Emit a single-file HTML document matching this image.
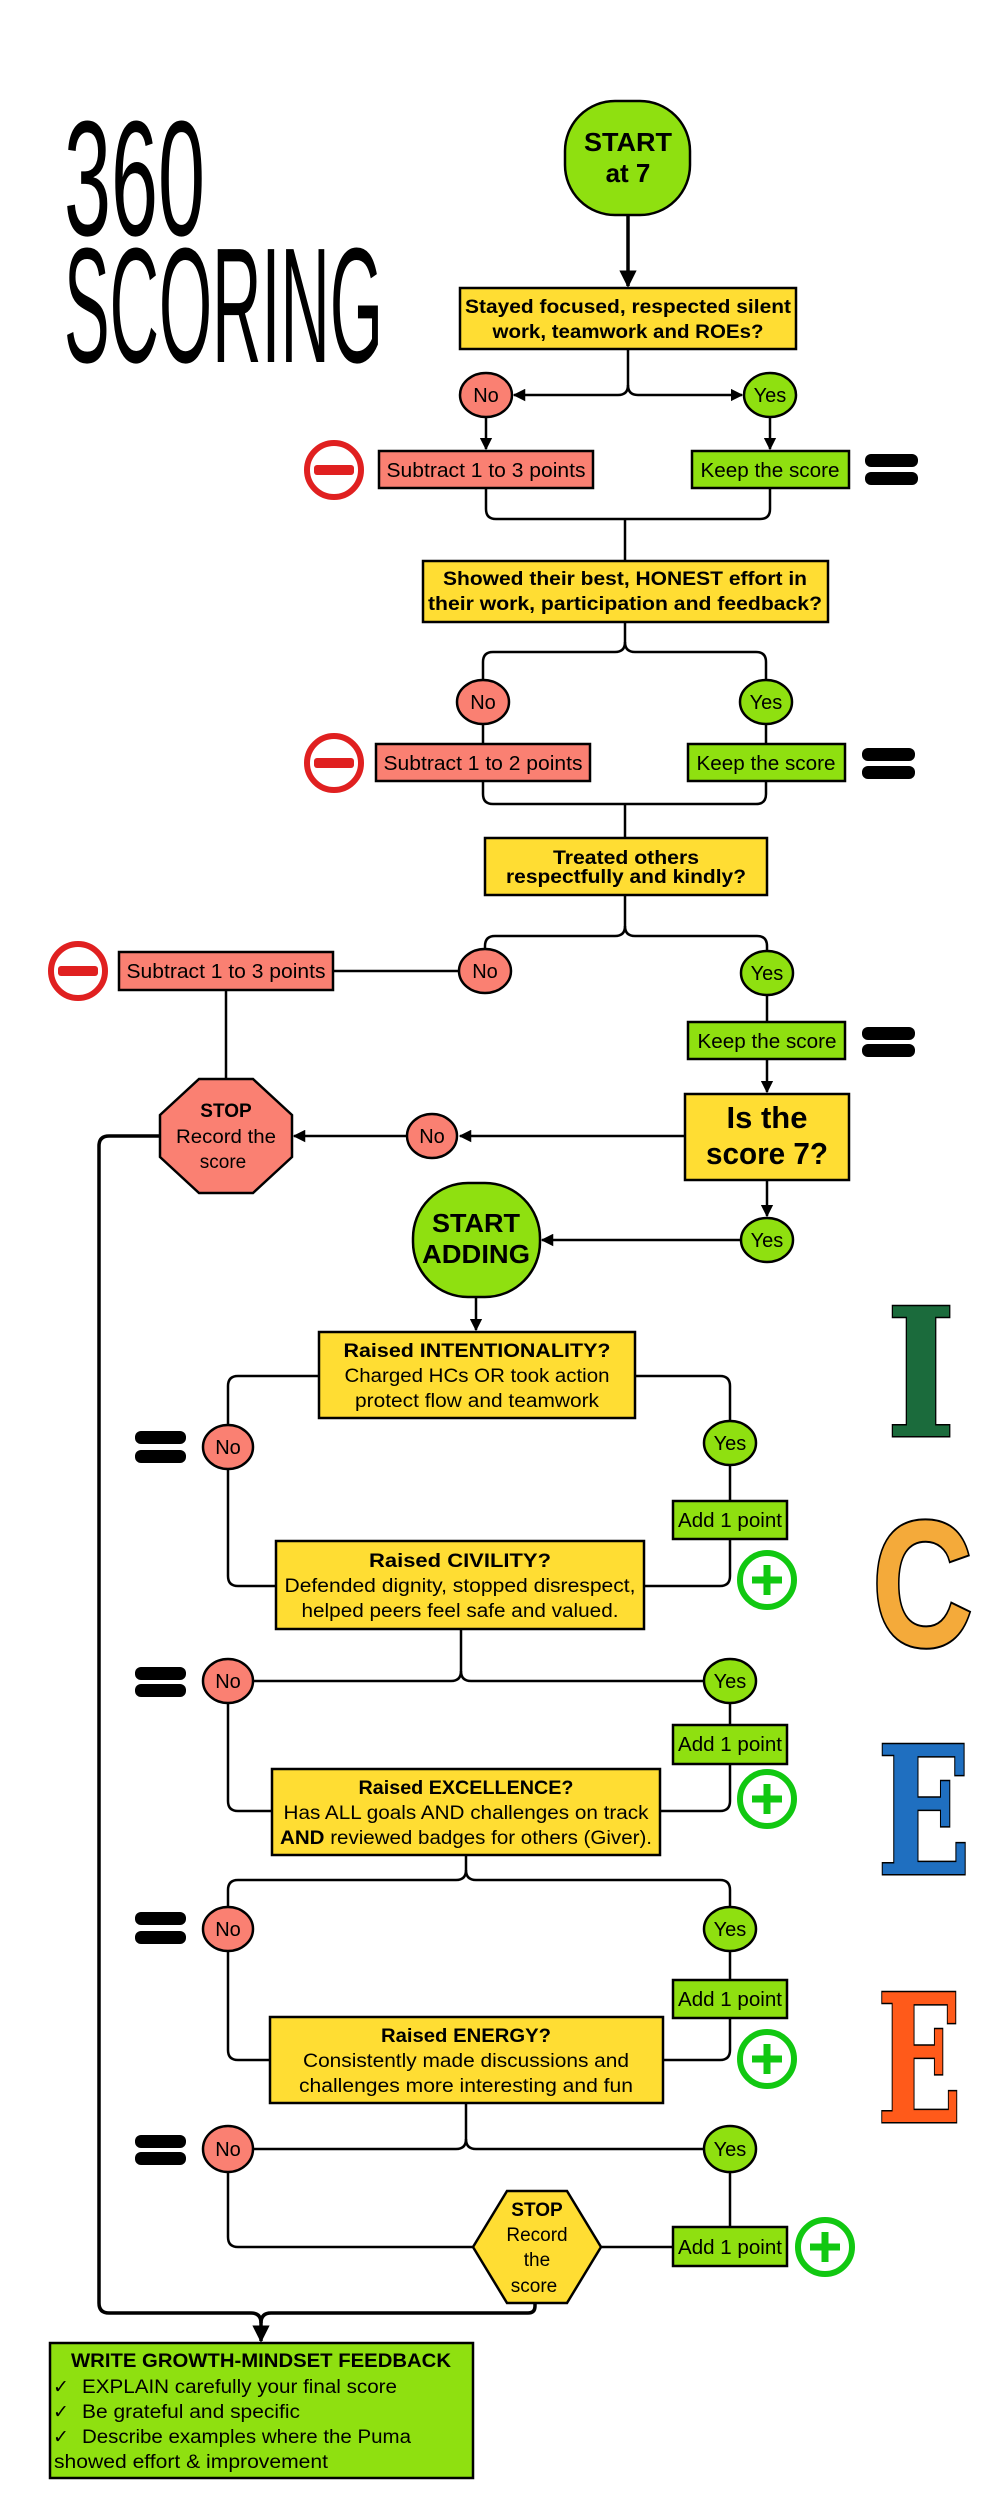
<!DOCTYPE html>
<html><head><meta charset="utf-8"><style>
html,body{margin:0;padding:0;background:#fff;}
svg{display:block;}
text{font-family:"Liberation Sans",sans-serif;}
.b{font-weight:bold;}
</style></head><body>
<svg width="1000" height="2500" viewBox="0 0 1000 2500" xmlns="http://www.w3.org/2000/svg">
<defs>
<marker id="ar" viewBox="0 0 10 10" refX="9" refY="5" markerWidth="5" markerHeight="5" orient="auto-start-reverse"><path d="M0,0 L10,5 L0,10 z" fill="#000"/></marker>
</defs>
<rect width="1000" height="2500" fill="#fff"/>

<!-- Title -->
<text x="64" y="235" font-size="164" fill="#000" textLength="141" lengthAdjust="spacingAndGlyphs">360</text>
<text x="64" y="362" font-size="164" fill="#000" textLength="319" lengthAdjust="spacingAndGlyphs">SCORING</text>

<g fill="none" stroke="#000" stroke-width="2.5">
<path d="M628,215 V286" stroke-width="3.5" marker-end="url(#ar)"/>
<path d="M628,349 V385 Q628,395 618,395 H514" marker-end="url(#ar)"/>
<path d="M628,385 Q628,395 638,395 H742" marker-end="url(#ar)"/>
<path d="M486,417 V449" marker-end="url(#ar)"/>
<path d="M770,417 V449" marker-end="url(#ar)"/>
<path d="M486,488 V509 Q486,519 496,519 H760 Q770,519 770,509 V488"/>
<path d="M625,519 V561"/>
<path d="M625,622 V642 Q625,652 615,652 H493 Q483,652 483,662 V680"/>
<path d="M625,642 Q625,652 635,652 H756 Q766,652 766,662 V680"/>
<path d="M483,724 V744 M766,724 V744"/>
<path d="M483,781 V794 Q483,804 493,804 H756 Q766,804 766,794 V781"/>
<path d="M625,804 V838"/>
<path d="M625,895 V926 Q625,936 615,936 H495 Q485,936 485,946 V949"/>
<path d="M625,926 Q625,936 635,936 H757 Q767,936 767,946 V951"/>
<path d="M459,971 H333"/>
<path d="M767,995 V1022"/>
<path d="M767,1059 V1092" marker-end="url(#ar)"/>
<path d="M685,1136 H460" marker-end="url(#ar)"/>
<path d="M406,1136 H294" marker-end="url(#ar)"/>
<path d="M226,990 V1079"/>
<path d="M160,1136 H109 Q99,1136 99,1146 V2303 Q99,2313 109,2313 H251 Q261,2313 261,2323 V2341" stroke-width="3.5" marker-end="url(#ar)"/>
<path d="M535,2303 V2306 Q535,2313 528,2313 H271 Q261,2313 261,2323" stroke-width="3.5"/>
<path d="M767,1180 V1216" marker-end="url(#ar)"/>
<path d="M741,1240 H542" marker-end="url(#ar)"/>
<path d="M476,1297 V1330" marker-end="url(#ar)"/>
<path d="M319,1376 H238 Q228,1376 228,1386 V1425"/>
<path d="M228,1469 V1576 Q228,1586 238,1586 H276"/>
<path d="M635,1376 H720 Q730,1376 730,1386 V1421"/>
<path d="M730,1465 V1501 M730,1539 V1576 Q730,1586 720,1586 H644"/>
<path d="M461,1629 V1671 Q461,1681 451,1681 H254"/>
<path d="M461,1671 Q461,1681 471,1681 H704"/>
<path d="M228,1703 V1801 Q228,1811 238,1811 H272"/>
<path d="M730,1703 V1725 M730,1764 V1801 Q730,1811 720,1811 H660"/>
<path d="M466,1855 V1870 Q466,1880 456,1880 H238 Q228,1880 228,1890 V1907"/>
<path d="M466,1870 Q466,1880 476,1880 H720 Q730,1880 730,1890 V1907"/>
<path d="M228,1951 V2050 Q228,2060 238,2060 H270"/>
<path d="M730,1951 V1980 M730,2018 V2050 Q730,2060 720,2060 H663"/>
<path d="M466,2103 V2139 Q466,2149 456,2149 H254"/>
<path d="M466,2139 Q466,2149 476,2149 H704"/>
<path d="M228,2171 V2237 Q228,2247 238,2247 H473"/>
<path d="M730,2171 V2227"/>
<path d="M601,2247 H673"/>
</g>

<g stroke="#000" stroke-width="2.5">
<rect x="565" y="101" width="125" height="114" rx="50" fill="#8FE010"/>
<rect x="460" y="288" width="336" height="61" fill="#FFDD33"/>
<ellipse cx="486" cy="395" rx="26" ry="22" fill="#FA8072"/>
<ellipse cx="770" cy="395" rx="26" ry="22" fill="#8FE010"/>
<rect x="379" y="451" width="214" height="37" fill="#FA8072"/>
<rect x="692" y="451" width="157" height="37" fill="#8FE010"/>
<rect x="423" y="561" width="405" height="61" fill="#FFDD33"/>
<ellipse cx="483" cy="702" rx="26" ry="22" fill="#FA8072"/>
<ellipse cx="766" cy="702" rx="26" ry="22" fill="#8FE010"/>
<rect x="376" y="744" width="214" height="37" fill="#FA8072"/>
<rect x="688" y="744" width="157" height="37" fill="#8FE010"/>
<rect x="485" y="838" width="282" height="57" fill="#FFDD33"/>
<ellipse cx="485" cy="971" rx="26" ry="22" fill="#FA8072"/>
<ellipse cx="767" cy="973" rx="26" ry="22" fill="#8FE010"/>
<rect x="119" y="952" width="214" height="38" fill="#FA8072"/>
<rect x="688" y="1022" width="157" height="37" fill="#8FE010"/>
<rect x="685" y="1094" width="164" height="86" fill="#FFDD33"/>
<ellipse cx="432" cy="1136" rx="25" ry="22" fill="#FA8072"/>
<polygon points="199,1079 253,1079 292,1115 292,1157 253,1193 199,1193 160,1157 160,1115" fill="#FA8072"/>
<rect x="413" y="1183" width="127" height="114" rx="55" fill="#8FE010"/>
<ellipse cx="767" cy="1240" rx="26" ry="22" fill="#8FE010"/>
<rect x="319" y="1332" width="316" height="86" fill="#FFDD33"/>
<ellipse cx="228" cy="1447" rx="25" ry="22" fill="#FA8072"/>
<ellipse cx="730" cy="1443" rx="26" ry="22" fill="#8FE010"/>
<rect x="673" y="1501" width="114" height="38" fill="#8FE010"/>
<rect x="276" y="1541" width="368" height="88" fill="#FFDD33"/>
<ellipse cx="228" cy="1681" rx="25" ry="22" fill="#FA8072"/>
<ellipse cx="730" cy="1681" rx="26" ry="22" fill="#8FE010"/>
<rect x="673" y="1725" width="114" height="39" fill="#8FE010"/>
<rect x="272" y="1769" width="388" height="86" fill="#FFDD33"/>
<ellipse cx="228" cy="1929" rx="25" ry="22" fill="#FA8072"/>
<ellipse cx="730" cy="1929" rx="26" ry="22" fill="#8FE010"/>
<rect x="673" y="1980" width="114" height="38" fill="#8FE010"/>
<rect x="270" y="2017" width="393" height="86" fill="#FFDD33"/>
<ellipse cx="228" cy="2149" rx="25" ry="23" fill="#FA8072"/>
<ellipse cx="730" cy="2149" rx="26" ry="23" fill="#8FE010"/>
<polygon points="507,2191 567,2191 601,2247 567,2303 507,2303 473,2247" fill="#FFDD33"/>
<rect x="673" y="2227" width="114" height="39" fill="#8FE010"/>
<rect x="50" y="2343" width="423" height="135" fill="#8FE010"/>
</g>

<g fill="none" stroke="#E02020" stroke-width="6">
<circle cx="334" cy="470" r="27"/><circle cx="334" cy="763" r="27"/><circle cx="78" cy="971" r="27"/>
</g>
<g fill="#E02020">
<rect x="314" y="465" width="40" height="10" rx="3"/><rect x="314" y="758" width="40" height="10" rx="3"/><rect x="58" y="966" width="40" height="10" rx="3"/>
</g>
<g fill="#000">
<rect x="865" y="454" width="53" height="13" rx="6"/><rect x="865" y="472" width="53" height="13" rx="6"/>
<rect x="862" y="748" width="53" height="13" rx="6"/><rect x="862" y="766" width="53" height="13" rx="6"/>
<rect x="862" y="1027" width="53" height="13" rx="6"/><rect x="862" y="1044" width="53" height="13" rx="6"/>
<rect x="135" y="1431" width="51" height="13" rx="6"/><rect x="135" y="1450" width="51" height="13" rx="6"/>
<rect x="135" y="1667" width="51" height="13" rx="6"/><rect x="135" y="1684" width="51" height="13" rx="6"/>
<rect x="135" y="1912" width="51" height="13" rx="6"/><rect x="135" y="1931" width="51" height="13" rx="6"/>
<rect x="135" y="2135" width="51" height="13" rx="6"/><rect x="135" y="2152" width="51" height="13" rx="6"/>
</g>
<g fill="none" stroke="#11C811" stroke-width="6">
<circle cx="767" cy="1580" r="27"/><circle cx="767" cy="1799" r="27"/><circle cx="767" cy="2059" r="27"/><circle cx="825" cy="2247" r="27"/>
</g>
<g stroke="#11C811" stroke-width="7">
<path d="M752,1580 H782 M767,1565 V1595"/>
<path d="M752,1799 H782 M767,1784 V1814"/>
<path d="M752,2059 H782 M767,2044 V2074"/>
<path d="M810,2247 H840 M825,2232 V2262"/>
</g>

<g font-weight="bold">
<text x="886" y="1436" font-size="178" style="fill:#1B6B3C;stroke:#000;stroke-width:3;paint-order:stroke;font-family:'DejaVu Serif',serif" textLength="70" lengthAdjust="spacingAndGlyphs">I</text>
<text x="872" y="1646" font-size="180" style="fill:#F4AA3A;stroke:#000;stroke-width:4;paint-order:stroke" textLength="101" lengthAdjust="spacingAndGlyphs">C</text>
<text x="877" y="1874" font-size="178" style="fill:#1F6FC0;stroke:#000;stroke-width:3;paint-order:stroke;font-family:'DejaVu Serif',serif" textLength="94" lengthAdjust="spacingAndGlyphs">E</text>
<text x="877" y="2122" font-size="178" style="fill:#FF5A1A;stroke:#000;stroke-width:3;paint-order:stroke;font-family:'DejaVu Serif',serif" textLength="85" lengthAdjust="spacingAndGlyphs">E</text>
</g>

<g text-anchor="middle" font-size="20" fill="#000">
<text class="b" x="628" y="151" font-size="26" textLength="88" lengthAdjust="spacingAndGlyphs">START</text>
<text class="b" x="628" y="182" font-size="26">at 7</text>
<text class="b" x="628" y="313" font-size="19" textLength="326" lengthAdjust="spacingAndGlyphs">Stayed focused, respected silent</text>
<text class="b" x="628" y="338" font-size="19" textLength="271" lengthAdjust="spacingAndGlyphs">work, teamwork and ROEs?</text>
<text x="486" y="402">No</text><text x="770" y="402">Yes</text>
<text x="486" y="477" textLength="199" lengthAdjust="spacingAndGlyphs">Subtract 1 to 3 points</text>
<text x="770" y="477" textLength="139" lengthAdjust="spacingAndGlyphs">Keep the score</text>
<text class="b" x="625" y="585" font-size="19" textLength="364" lengthAdjust="spacingAndGlyphs">Showed their best, HONEST effort in</text>
<text class="b" x="625" y="610" font-size="19" textLength="394" lengthAdjust="spacingAndGlyphs">their work, participation and feedback?</text>
<text x="483" y="709">No</text><text x="766" y="709">Yes</text>
<text x="483" y="770" textLength="199" lengthAdjust="spacingAndGlyphs">Subtract 1 to 2 points</text>
<text x="766" y="770" textLength="139" lengthAdjust="spacingAndGlyphs">Keep the score</text>
<text class="b" x="626" y="864" font-size="19" textLength="146" lengthAdjust="spacingAndGlyphs">Treated others</text>
<text class="b" x="626" y="883" font-size="19" textLength="240" lengthAdjust="spacingAndGlyphs">respectfully and kindly?</text>
<text x="485" y="978">No</text><text x="767" y="980">Yes</text>
<text x="226" y="978" textLength="199" lengthAdjust="spacingAndGlyphs">Subtract 1 to 3 points</text>
<text x="767" y="1048" textLength="139" lengthAdjust="spacingAndGlyphs">Keep the score</text>
<text class="b" x="767" y="1128" font-size="31">Is the</text>
<text class="b" x="767" y="1164" font-size="31" textLength="122" lengthAdjust="spacingAndGlyphs">score 7?</text>
<text x="432" y="1143">No</text>
<text class="b" x="226" y="1117" font-size="19">STOP</text>
<text x="226" y="1143" font-size="19" textLength="100" lengthAdjust="spacingAndGlyphs">Record the</text>
<text x="223" y="1168" font-size="19">score</text>
<text class="b" x="476" y="1232" font-size="26" textLength="88" lengthAdjust="spacingAndGlyphs">START</text>
<text class="b" x="476" y="1263" font-size="26" textLength="108" lengthAdjust="spacingAndGlyphs">ADDING</text>
<text x="767" y="1247">Yes</text>
<text class="b" x="477" y="1357" font-size="19" textLength="267" lengthAdjust="spacingAndGlyphs">Raised INTENTIONALITY?</text>
<text x="477" y="1382" font-size="19" textLength="265" lengthAdjust="spacingAndGlyphs">Charged HCs OR took action</text>
<text x="477" y="1407" font-size="19" textLength="244" lengthAdjust="spacingAndGlyphs">protect flow and teamwork</text>
<text x="228" y="1454">No</text><text x="730" y="1450">Yes</text>
<text x="730" y="1527" textLength="104" lengthAdjust="spacingAndGlyphs">Add 1 point</text>
<text class="b" x="460" y="1567" font-size="19" textLength="182" lengthAdjust="spacingAndGlyphs">Raised CIVILITY?</text>
<text x="460" y="1592" font-size="19" textLength="351" lengthAdjust="spacingAndGlyphs">Defended dignity, stopped disrespect,</text>
<text x="460" y="1617" font-size="19" textLength="317" lengthAdjust="spacingAndGlyphs">helped peers feel safe and valued.</text>
<text x="228" y="1688">No</text><text x="730" y="1688">Yes</text>
<text x="730" y="1751" textLength="104" lengthAdjust="spacingAndGlyphs">Add 1 point</text>
<text class="b" x="466" y="1794" font-size="19" textLength="215" lengthAdjust="spacingAndGlyphs">Raised EXCELLENCE?</text>
<text x="466" y="1819" font-size="19" textLength="365" lengthAdjust="spacingAndGlyphs">Has ALL goals AND challenges on track</text>
<text x="466" y="1844" font-size="19" textLength="372" lengthAdjust="spacingAndGlyphs"><tspan font-weight="bold">AND</tspan> reviewed badges for others (Giver).</text>
<text x="228" y="1936">No</text><text x="730" y="1936">Yes</text>
<text x="730" y="2006" textLength="104" lengthAdjust="spacingAndGlyphs">Add 1 point</text>
<text class="b" x="466" y="2042" font-size="19" textLength="170" lengthAdjust="spacingAndGlyphs">Raised ENERGY?</text>
<text x="466" y="2067" font-size="19" textLength="326" lengthAdjust="spacingAndGlyphs">Consistently made discussions and</text>
<text x="466" y="2092" font-size="19" textLength="334" lengthAdjust="spacingAndGlyphs">challenges more interesting and fun</text>
<text x="228" y="2156">No</text><text x="730" y="2156">Yes</text>
<text class="b" x="537" y="2216" font-size="19">STOP</text>
<text x="537" y="2241" font-size="19">Record</text>
<text x="537" y="2266" font-size="19">the</text>
<text x="534" y="2292" font-size="19">score</text>
<text x="730" y="2254" textLength="104" lengthAdjust="spacingAndGlyphs">Add 1 point</text>
<text class="b" x="261" y="2367" font-size="19" textLength="380" lengthAdjust="spacingAndGlyphs">WRITE GROWTH-MINDSET FEEDBACK</text>
</g>
<g font-size="19" fill="#000">
<text x="53" y="2393">✓</text><text x="82" y="2393" textLength="315" lengthAdjust="spacingAndGlyphs">EXPLAIN carefully your final score</text>
<text x="53" y="2418">✓</text><text x="82" y="2418" textLength="218" lengthAdjust="spacingAndGlyphs">Be grateful and specific</text>
<text x="53" y="2443">✓</text><text x="82" y="2443" textLength="329" lengthAdjust="spacingAndGlyphs">Describe examples where the Puma</text>
<text x="54" y="2468" textLength="274" lengthAdjust="spacingAndGlyphs">showed effort &amp; improvement</text>
</g>
</svg>
</body></html>
